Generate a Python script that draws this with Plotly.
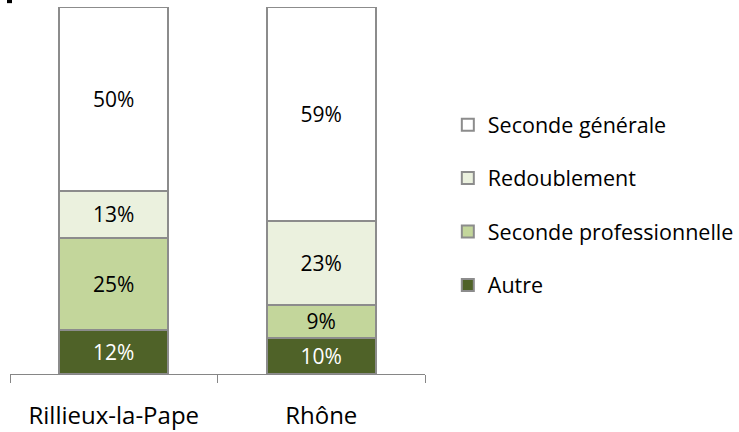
import plotly.graph_objects as go

categories = ["Rillieux-la-Pape", "Rhône"]
series_names = ["Autre", "Seconde professionnelle", "Redoublement", "Seconde générale"]
autre = [12, 10]
seconde_pro = [25, 9]
redoublement = [13, 23]
seconde_gen = [50, 59]
series_values = [autre, seconde_pro, redoublement, seconde_gen]
colors = ["#4f6228", "#c3d69b", "#ebf1de", "#ffffff"]
text_colors = ["#ffffff", "#000000", "#000000", "#000000"]

FONT = "Open Sans, Liberation Sans, sans-serif"

fig = go.Figure()
for i, (name, vals) in enumerate(zip(series_names, series_values)):
    fig.add_trace(go.Bar(
        x=categories, y=vals, name=name,
        text=[f"{v}%" for v in vals], texttemplate="%{text}",
        textposition="inside", insidetextanchor="middle", textangle=0,
        constraintext="none",
        textfont=dict(family=FONT, size=21, color=text_colors[i]),
        marker=dict(color=colors[i], line=dict(color="#8c8c8c", width=2)),
        legendgroup=f"g{i}", legendrank=len(series_names) - i,
        hoverinfo="skip",
    ))

fig.update_layout(
    width=739, height=432,
    barmode="stack", barnorm="percent", bargap=0.475,
    plot_bgcolor="white", paper_bgcolor="white",
    margin=dict(l=10, r=314, t=7, b=58, autoexpand=False),
    font=dict(family=FONT, size=20, color="#000000"),
    showlegend=True,
    legend=dict(
        x=1.055, xanchor="left", y=0.46, yanchor="middle",
        traceorder="grouped", tracegroupgap=22.5,
        font=dict(family=FONT, size=21.5, color="#000000"),
        bgcolor="rgba(0,0,0,0)",
    ),
    xaxis=dict(
        showline=True, linecolor="#868686", linewidth=1,
        ticks="outside", ticklen=8, tickcolor="#868686", tickwidth=1,
        tickson="boundaries", ticklabelstandoff=20, automargin=False,
        tickfont=dict(family=FONT, size=24, color="#000000"),
        showgrid=False, zeroline=False,
    ),
    yaxis=dict(visible=False, range=[0, 100], automargin=False),
    shapes=[dict(type="rect", xref="paper", yref="paper",
                 x0=-0.0072, x1=0.0048, y0=1.0105, y1=1.025,
                 fillcolor="#000000", line=dict(width=0))],
)

fig.write_html("out.html", config={"displayModeBar": False},
               post_script="document.body.style.margin='0px';")
